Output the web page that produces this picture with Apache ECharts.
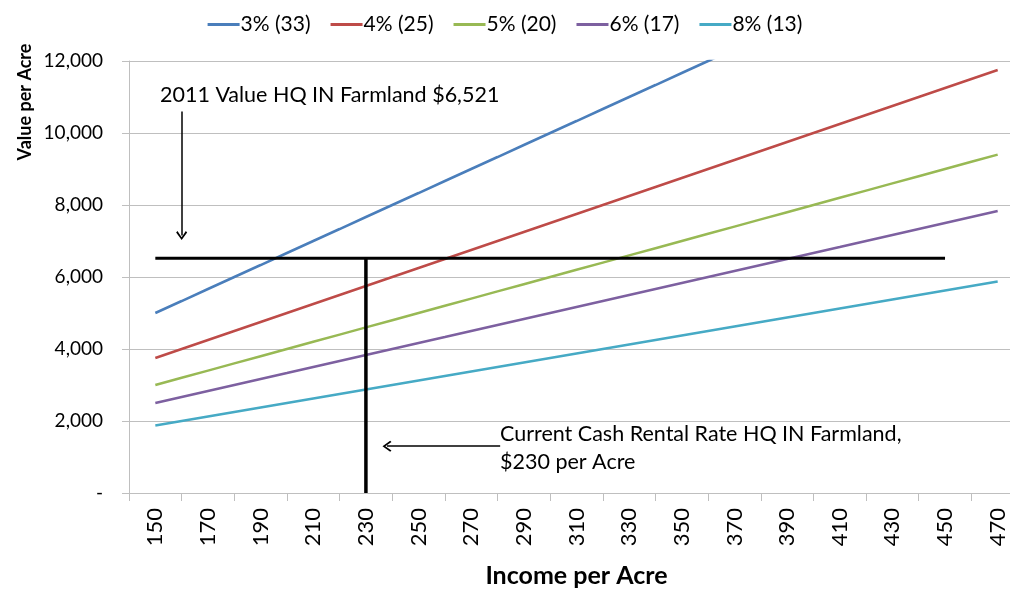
<!DOCTYPE html>
<html>
<head>
<meta charset="utf-8">
<script src="https://cdn.jsdelivr.net/npm/echarts@6/dist/echarts.min.js"></script>
<style>
  html, body { margin: 0; padding: 0; background: #fff; }
  #main { width: 1010px; height: 589px; }
</style>
</head>
<body>
<div id="main"></div>
<script>
// income per acre (x axis)
var income = [150, 160, 170, 180, 190, 200, 210, 220, 230, 240, 250, 260, 270, 280, 290, 300, 310,
  320, 330, 340, 350, 360, 370, 380, 390, 400, 410, 420, 430, 440, 450, 460, 470];

// value per acre for each cap rate
var rate3 = [5000, 5333, 5667, 6000, 6333, 6667, 7000, 7333, 7667, 8000, 8333, 8667, 9000, 9333, 9667,
  10000, 10333, 10667, 11000, 11333, 11667, 12000, 12333];
var rate4 = [3750, 4000, 4250, 4500, 4750, 5000, 5250, 5500, 5750, 6000, 6250, 6500, 6750, 7000, 7250,
  7500, 7750, 8000, 8250, 8500, 8750, 9000, 9250, 9500, 9750, 10000, 10250, 10500, 10750, 11000,
  11250, 11500, 11750];
var rate5 = [3000, 3200, 3400, 3600, 3800, 4000, 4200, 4400, 4600, 4800, 5000, 5200, 5400, 5600, 5800,
  6000, 6200, 6400, 6600, 6800, 7000, 7200, 7400, 7600, 7800, 8000, 8200, 8400, 8600, 8800,
  9000, 9200, 9400];
var rate6 = [2500, 2667, 2833, 3000, 3167, 3333, 3500, 3667, 3833, 4000, 4167, 4333, 4500, 4667, 4833,
  5000, 5167, 5333, 5500, 5667, 5833, 6000, 6167, 6333, 6500, 6667, 6833, 7000, 7167, 7333,
  7500, 7667, 7833];
var rate8 = [1875, 2000, 2125, 2250, 2375, 2500, 2625, 2750, 2875, 3000, 3125, 3250, 3375, 3500, 3625,
  3750, 3875, 4000, 4125, 4250, 4375, 4500, 4625, 4750, 4875, 5000, 5125, 5250, 5375, 5500,
  5625, 5750, 5875];

var seriesNames = ['3% (33)', '4% (25)', '5% (20)', '6% (17)', '8% (13)'];
var seriesColors = ['#4A7EBB', '#BE4B48', '#98B954', '#7D60A0', '#46AAC5'];

// reference lines
var farmValue = 6521;      // 2011 value HQ IN farmland
var rentalRate = 230;      // current cash rental rate
var refSpan = [150, 450];

var FONT = 'Lato, "Open Sans", sans-serif';

function pairs(vals) {
  var out = [];
  for (var i = 0; i < vals.length; i++) out.push([income[i], vals[i]]);
  return out;
}

// open chevron arrow head (tip pointing up)
var arrowHead = 'path://M5,0 L10,6 L8.8,7 L5,2.2 L1.2,7 L0,6 Z';

var chart = echarts.init(document.getElementById('main'));

var rateSeries = [rate3, rate4, rate5, rate6, rate8].map(function (vals, i) {
  return {
    name: seriesNames[i],
    type: 'line',
    data: pairs(vals),
    symbol: 'none',
    lineStyle: { width: 2.5, color: seriesColors[i] },
    itemStyle: { color: seriesColors[i] },
    silent: true,
    z: 2
  };
});

var option = {
  animation: false,
  textStyle: { fontFamily: FONT },
  legend: {
    data: seriesNames,
    top: 9,
    left: 'center',
    icon: 'rect',
    itemWidth: 32,
    itemHeight: 3,
    itemGap: 20,
    textStyle: { fontSize: 21, color: '#000', fontFamily: FONT, padding: [0, 0, 0, -4] }
  },
  grid: { left: 129, top: 61, width: 895, height: 432, outerBoundsMode: 'none', containLabel: false },
  xAxis: [
    {
      type: 'value',
      min: 140,
      max: 480,
      interval: 20,
      axisLine: { lineStyle: { color: '#BFBFBF', width: 1 } },
      axisTick: { length: 8, lineStyle: { color: '#BFBFBF' } },
      axisLabel: { show: false },
      splitLine: { show: false }
    },
    {
      type: 'value',
      position: 'bottom',
      min: 140,
      max: 480,
      interval: 10,
      axisLine: { show: false },
      axisTick: { show: false },
      splitLine: { show: false },
      axisLabel: {
        rotate: 90,
        margin: 15,
        fontSize: 22,
        color: '#000',
        fontFamily: FONT,
        formatter: function (v) {
          return (v >= 150 && v <= 470 && (v - 150) % 20 === 0) ? String(v) : '';
        }
      },
      name: 'Income per Acre',
      nameLocation: 'middle',
      nameMoveOverlap: false,
      nameGap: 70,
      nameTextStyle: { fontSize: 25, fontWeight: 'bold', color: '#000', fontFamily: FONT }
    }
  ],
  yAxis: {
    type: 'value',
    min: 0,
    max: 12000,
    interval: 2000,
    axisLine: { show: true, lineStyle: { color: '#BFBFBF' } },
    axisTick: { show: true, length: 7, lineStyle: { color: '#BFBFBF' } },
    splitLine: { lineStyle: { color: '#BFBFBF', width: 1 } },
    axisLabel: {
      margin: 26,
      fontSize: 19,
      color: '#000',
      fontFamily: FONT,
      formatter: function (v) {
        return v === 0 ? '-' : v.toLocaleString('en-US');
      }
    }
  },
  graphic: [
    {
      type: 'text',
      x: 25,
      y: 102,
      rotation: Math.PI / 2,
      style: {
        text: 'Value per Acre',
        font: 'bold 18px ' + FONT,
        fill: '#000',
        textAlign: 'center',
        textVerticalAlign: 'middle'
      }
    },
    {
      type: 'text',
      left: 160,
      top: 84,
      style: {
        text: '2011 Value HQ IN Farmland $6,521',
        font: '21.5px ' + FONT,
        fill: '#000'
      }
    },
    {
      type: 'text',
      left: 500,
      top: 420,
      style: {
        text: 'Current Cash Rental Rate HQ IN Farmland,\n$230 per Acre',
        font: '21.5px ' + FONT,
        lineHeight: 28,
        fill: '#000'
      }
    }
  ],
  series: rateSeries.concat([
    {
      name: 'farm value',
      type: 'line',
      data: [[refSpan[0], farmValue], [refSpan[1], farmValue]],
      symbol: 'none',
      silent: true,
      lineStyle: { width: 3, color: '#000' },
      z: 3,
      markLine: {
        silent: true,
        symbol: ['none', arrowHead],
        symbolSize: [11, 9],
        label: { show: false },
        lineStyle: { color: '#000', width: 1.5, type: 'solid' },
        itemStyle: { color: '#000' },
        data: [
          [{ coord: [160, 10600] }, { coord: [160, 7150] }],
          [{ coord: [281, 1300] }, { coord: [238, 1300] }]
        ]
      }
    },
    {
      name: 'rental rate',
      type: 'line',
      data: [[rentalRate, 0], [rentalRate, farmValue]],
      symbol: 'none',
      silent: true,
      lineStyle: { width: 3.5, color: '#000' },
      z: 3
    }
  ])
};

chart.setOption(option);
</script>
</body>
</html>
